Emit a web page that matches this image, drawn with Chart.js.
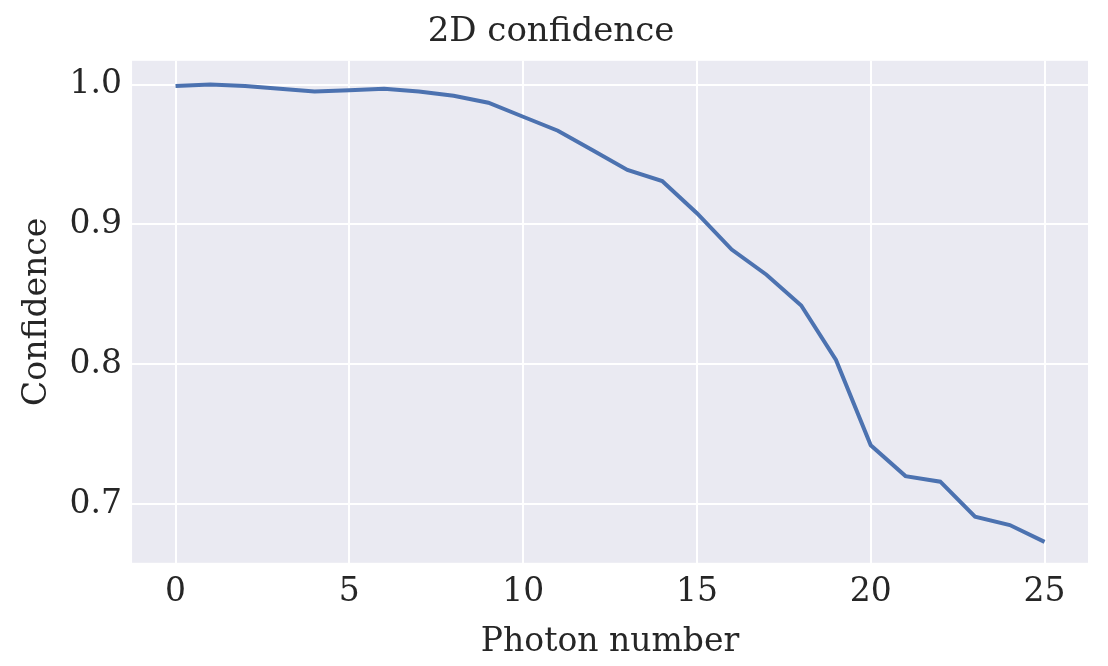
<!DOCTYPE html>
<html><head><meta charset="utf-8">
<script src="https://cdn.jsdelivr.net/npm/chart.js@4"></script>
<style>html,body{margin:0;background:#fff}#w{width:1108px;height:666px}</style>
</head><body><div id="w"><canvas id="c"></canvas></div>
<script>
const photonNumbers=[0,1,2,3,4,5,6,7,8,9,10,11,12,13,14,15,16,17,18,19,20,21,22,23,24,25];
const confidence=[0.999,1.0,0.999,0.997,0.995,0.996,0.997,0.995,0.992,0.987,0.977,0.967,0.953,0.939,0.931,0.908,0.882,0.864,0.842,0.803,0.742,0.720,0.716,0.691,0.685,0.673];
const xTicks=[0,5,10,15,20,25];
const yTicks=[0.7,0.8,0.9,1.0];
const F='DejaVu Serif';
const bg={id:'bg',beforeDraw(c){const a=c.chartArea,x=c.ctx;x.save();x.fillStyle='#eaeaf2';x.fillRect(a.left,a.top,a.right-a.left,a.bottom-a.top);x.restore();}};
new Chart(document.getElementById('c'),{type:'line',
data:{datasets:[{data:photonNumbers.map((p,i)=>({x:p,y:confidence[i]})),borderColor:'#4c72b0',borderWidth:4,pointRadius:0,tension:0}]},
options:{responsive:true,maintainAspectRatio:false,animation:false,
layout:{padding:{left:14,right:20,top:0,bottom:4}},
plugins:{legend:{display:false},tooltip:{enabled:false},
title:{display:true,text:'2D confidence',color:'#262626',font:{family:F,size:34,weight:'normal'},padding:{top:12,bottom:8}}},
scales:{
x:{type:'linear',min:-1.25,max:26.25,afterBuildTicks(s){s.ticks=xTicks.map(v=>({value:v}));},
 grid:{color:'#fff',lineWidth:2,drawTicks:false},border:{display:false},
 ticks:{color:'#262626',font:{family:F,size:33},padding:10},
 title:{display:true,text:'Photon number',color:'#262626',font:{family:F,size:33},padding:{top:0,bottom:0}}},
y:{min:0.658,max:1.017,afterBuildTicks(s){s.ticks=yTicks.map(v=>({value:v}));},
 grid:{color:'#fff',lineWidth:2,drawTicks:false},border:{display:false},
 ticks:{color:'#262626',font:{family:F,size:33},padding:10,callback:v=>v.toFixed(1)},
 title:{display:true,text:'Confidence',color:'#262626',font:{family:F,size:33},padding:{bottom:2}}}}},
plugins:[bg]});
</script></body></html>
